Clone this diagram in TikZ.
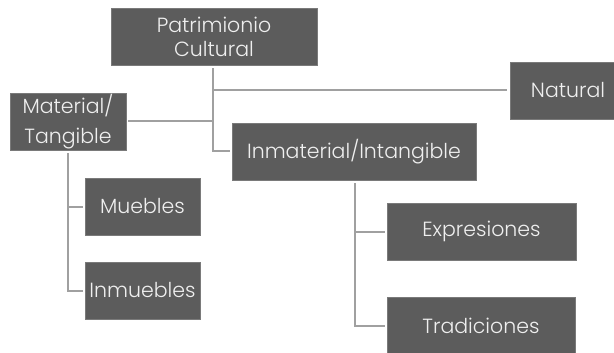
\documentclass[tikz,border=0pt]{standalone}
\usepackage{fontspec}
\setmainfont{Poppins Light}
\definecolor{boxfill}{HTML}{5C5C5C}
\definecolor{boxedge}{HTML}{7A7A7A}
\definecolor{boxtext}{HTML}{EFEFEF}
\definecolor{linegray}{HTML}{A0A0A0}
\begin{document}
\begin{tikzpicture}[x=1pt,y=-1pt,
  box/.style={fill=boxfill, draw=boxedge, line width=0.6pt, text=boxtext,
    font=\fontsize{20.5}{24}\selectfont, align=center, inner sep=0pt,
    minimum height=57pt},
  conn/.style={draw=linegray, line width=2pt}]
\useasboundingbox (0,0) rectangle (614,353);
\begin{scope}
\clip (0,0) rectangle (614,353);
\node[box, minimum width=206pt] (P) at (214,36.5) {Patrimionio\\Cultural};
\node[box, minimum width=116pt] (M) at (68,121.5) {Material/\\[6pt]Tangible};
\node[box, minimum width=244pt] (I) at (354,151.5) {Inmaterial/Intangible};
\node[box, minimum width=116pt] (N) at (568,90.5) {Natural};
\node[box, minimum width=115pt] (Mu) at (142.5,206.5) {Muebles};
\node[box, minimum width=115pt] (In) at (142.5,290.5) {Inmuebles};
\node[box, minimum width=189pt] (E) at (481.5,231.5) {Expresiones};
\node[box, minimum width=188pt] (T) at (481,325.5) {Tradiciones};

\coordinate (pj) at (213,0);
\coordinate (mj) at (67.5,0);
\coordinate (ij) at (355,0);

\draw[conn, shorten <=3pt, shorten >=2pt] (pj |- P.south) |- (I.west);
\draw[conn, shorten >=3pt] (pj |- N.west) -- (N.west);
\draw[conn, shorten >=2pt] (pj |- M.east) -- (M.east);
\draw[conn, shorten <=3pt, shorten >=2pt] (mj |- M.south) |- (In.west);
\draw[conn, shorten >=2pt] (mj |- Mu.west) -- (Mu.west);
\draw[conn, shorten <=3pt, shorten >=2pt] (ij |- I.south) |- (T.west);
\draw[conn, shorten >=2pt] (ij |- E.west) -- (E.west);
\end{scope}
\end{tikzpicture}
\end{document}
